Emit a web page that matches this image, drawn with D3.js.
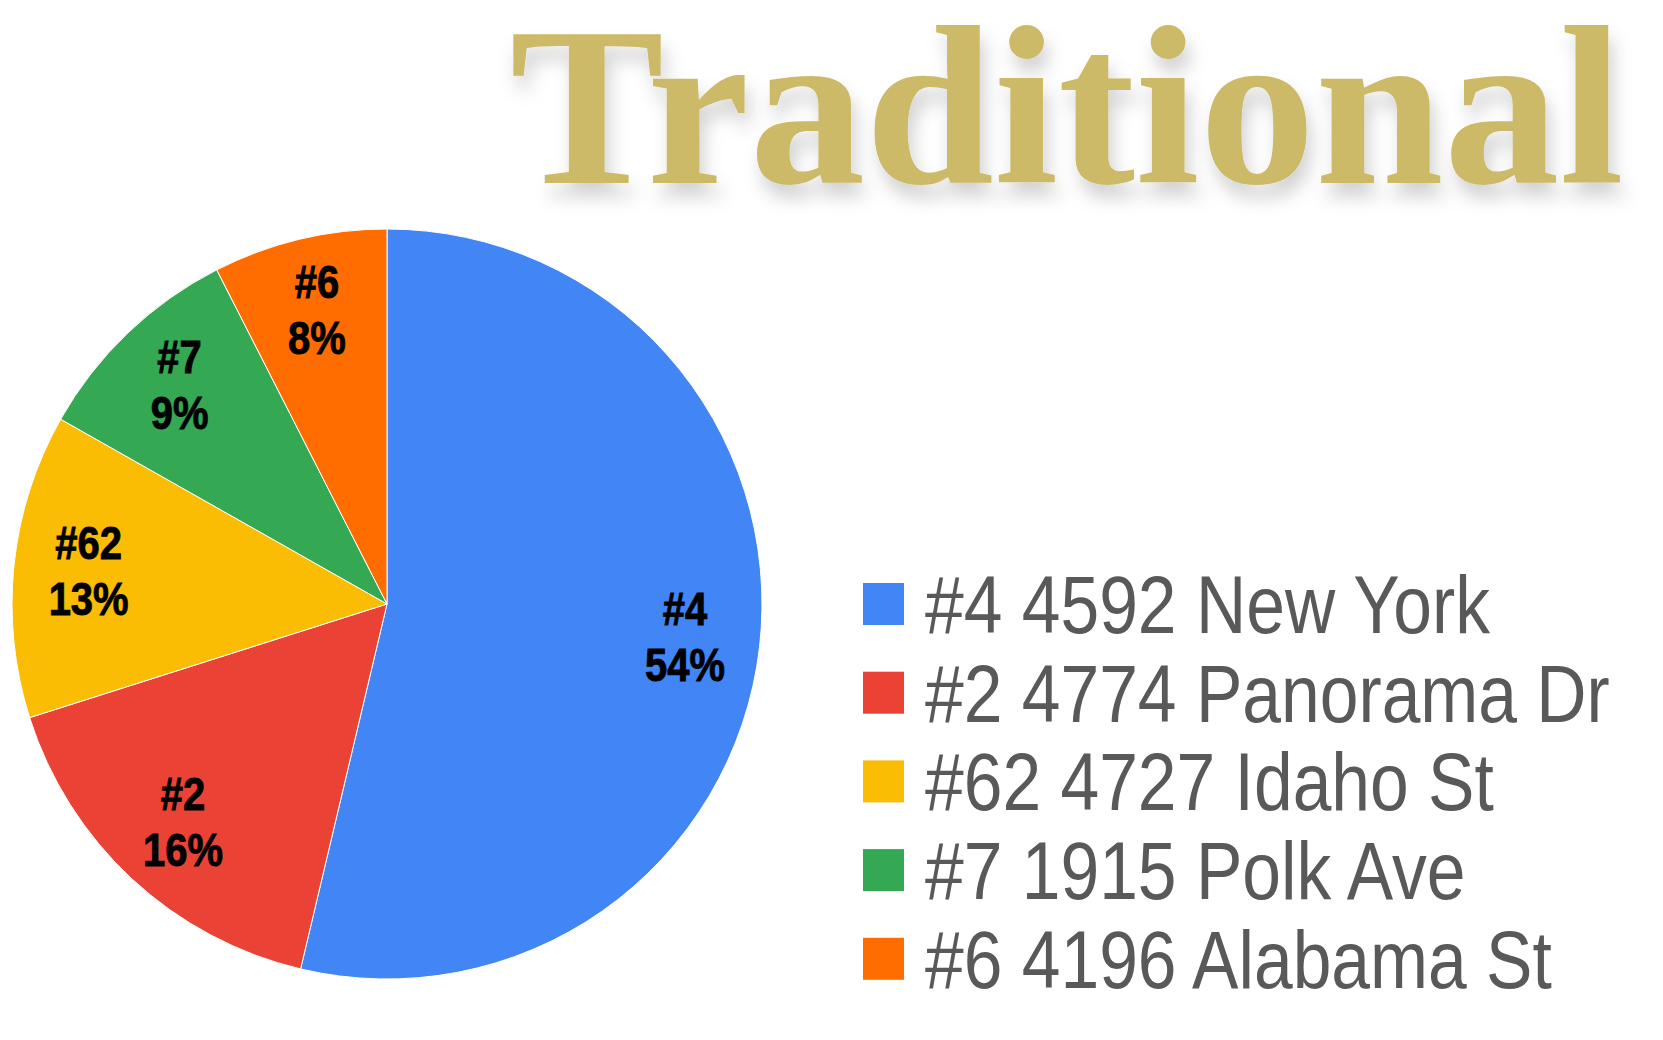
<!DOCTYPE html>
<html>
<head>
<meta charset="utf-8">
<script src="https://cdn.jsdelivr.net/npm/d3@7"></script>
<style>
  html, body { margin: 0; padding: 0; background: #fff; }
  svg { display: block; }
</style>
</head>
<body>
<svg id="chart" width="1663" height="1040"></svg>
<script>
// ---- data ----
const shortLabels = ["#4", "#2", "#62", "#7", "#6"];
const legendLabels = ["#4 4592 New York", "#2 4774 Panorama Dr", "#62 4727 Idaho St", "#7 1915 Polk Ave", "#6 4196 Alabama St"];
const values = [53.7, 16.4, 13.1, 9.3, 7.5];
const colors = ["#4285F4", "#EA4335", "#FBBC04", "#34A853", "#FF6D01"];
const title = "Traditional";

const serifFont = `"Liberation Serif", "Times New Roman", serif`;
const sansFont = `"Liberation Sans", Arial, sans-serif`;

const svg = d3.select("#chart");
const cnv = document.createElement("canvas").getContext("2d");

// ---- title (fit glyph box: left 512, right 1622, top of ascenders 26, baseline 183) ----
const defs = svg.append("defs");
const f = defs.append("filter").attr("id", "shadow").attr("x", "-10%").attr("y", "-20%").attr("width", "120%").attr("height", "150%");
f.append("feDropShadow").attr("dx", 2).attr("dy", 6).attr("stdDeviation", 4)
  .attr("flood-color", "#000").attr("flood-opacity", 0.18);

cnv.font = `bold 100px ${serifFont}`;
const mAll = cnv.measureText(title);
const gLeft = -mAll.actualBoundingBoxLeft, gRight = mAll.actualBoundingBoxRight;
const gAsc = mAll.actualBoundingBoxAscent;
const tLeft = 512, tRight = 1622, tTop = 26, base = 183;
const sy = (base - tTop) / gAsc;
const sx = (tRight - tLeft) / (gRight - gLeft);
svg.append("text")
  .attr("transform", `translate(${tLeft - gLeft * sx},${base}) scale(${sx},${sy})`)
  .style("font-family", serifFont)
  .attr("font-weight", "bold")
  .attr("font-size", 100)
  .attr("fill", "#CCBA69")
  .attr("filter", "url(#shadow)")
  .text(title);

// ---- pie ----
const cx = 387, cy = 604, R = 375;
const pie = d3.pie().sort(null).value(d => d);
const arcs = pie(values);
const arc = d3.arc().innerRadius(0).outerRadius(R);
const labelArc = d3.arc().innerRadius(R * 0.8).outerRadius(R * 0.8);
const color = d3.scaleOrdinal().domain(d3.range(values.length)).range(colors);
const total = d3.sum(values);

const g = svg.append("g").attr("transform", `translate(${cx},${cy})`);
g.selectAll("path").data(arcs).join("path")
  .attr("d", arc)
  .attr("fill", (d, i) => color(i))
  .attr("stroke", "#fff")
  .attr("stroke-width", 1);

// label horizontal compression: "54%" ~80px wide at 46px
const probe = svg.append("text").style("font-family", sansFont).attr("font-weight", "bold").attr("font-size", 46).text("54%");
const labScale = 80 / probe.node().getComputedTextLength();
probe.remove();

const lab = g.selectAll("g.lab").data(arcs).join("g").attr("class", "lab")
  .attr("transform", d => `translate(${labelArc.centroid(d)}) scale(${labScale},1)`);
const labText = (sel) => sel
  .attr("text-anchor", "middle")
  .style("font-family", sansFont).attr("font-weight", "bold").attr("font-size", 46)
  .attr("fill", "#000").attr("stroke", "#000").attr("stroke-width", 0.9);
lab.append("text").call(labText).attr("y", -14).text((d, i) => shortLabels[i]);
lab.append("text").call(labText).attr("y", 42).text(d => Math.round(d.value / total * 100) + "%");

// ---- legend ----
const legY = d3.scaleLinear().domain([0, 1]).range([583, 671.7]);
const probe2 = svg.append("text").style("font-family", sansFont).attr("font-size", 82).text(legendLabels[0]);
const legScale = 565 / probe2.node().getComputedTextLength();
probe2.remove();

const leg = svg.append("g");
const items = leg.selectAll("g").data(legendLabels).join("g")
  .attr("transform", (d, i) => `translate(863,${legY(i)})`);
items.append("rect").attr("width", 41).attr("height", 42).attr("fill", (d, i) => color(i));
items.append("text")
  .attr("transform", `translate(62,50) scale(${legScale},1)`)
  .style("font-family", sansFont).attr("font-size", 82)
  .attr("fill", "#595959")
  .text(d => d);
</script>
</body>
</html>
